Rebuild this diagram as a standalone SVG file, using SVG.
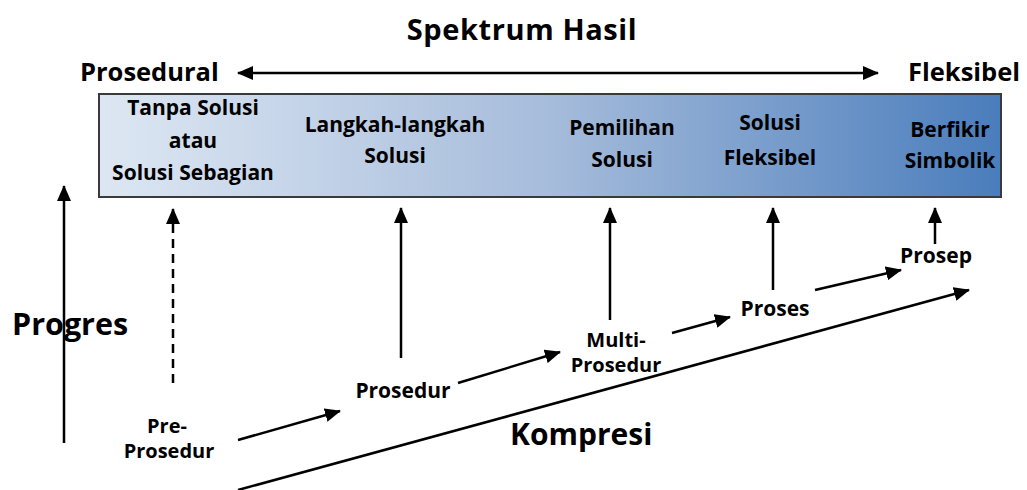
<svg xmlns="http://www.w3.org/2000/svg" width="1027" height="490" viewBox="0 0 1027 490">
<style>
text{font-family:"Open Sans",Lato,"Liberation Sans",sans-serif;font-weight:bold;fill:#000;}
.t{font-size:21px;text-anchor:middle;}
.big{font-size:29px;}
.hdr{font-size:25.5px;}
.ln{stroke:#000;stroke-width:2.5;fill:none;}
</style>
<defs>
<linearGradient id="g" x1="0" y1="0" x2="1" y2="0">
<stop offset="0" stop-color="#dde7f3"/>
<stop offset="0.5" stop-color="#a6bcdb"/>
<stop offset="1" stop-color="#4a7dbc"/>
</linearGradient>
<marker id="ah" viewBox="0 0 16 14" refX="15" refY="7" markerWidth="16" markerHeight="14" markerUnits="userSpaceOnUse" orient="auto-start-reverse">
<path d="M0,0 L16,7 L0,14 Z" fill="#000"/>
</marker>
</defs>
<g id="title">
<text x="522" y="40" text-anchor="middle" class="big" letter-spacing="0.6">Spektrum Hasil</text>
<text x="80" y="81" class="hdr">Prosedural</text>
<text x="908" y="81" class="hdr">Fleksibel</text>
</g>
<g id="spectrum">
<rect x="99" y="94" width="902" height="103" fill="url(#g)" stroke="#3a3a3a" stroke-width="2"/>
<text class="t" x="193" y="115">Tanpa Solusi<tspan x="193" y="148">atau</tspan><tspan x="193" y="180">Solusi Sebagian</tspan></text>
<text class="t" x="395" y="132">Langkah-langkah<tspan x="395" y="163">Solusi</tspan></text>
<text class="t" x="622" y="135">Pemilihan<tspan x="622" y="167">Solusi</tspan></text>
<text class="t" x="770" y="130">Solusi<tspan x="770" y="165">Fleksibel</tspan></text>
<text class="t" x="950" y="137">Berfikir<tspan x="950" y="168">Simbolik</tspan></text>
</g>
<g id="labels">
<text x="12" y="335" class="big" style="font-size:30.5px">Progres</text>
<text x="510" y="445" class="big" style="font-size:30px">Kompresi</text>
<text class="t" x="167" y="433" style="font-size:20px">Pre-<tspan x="169" y="458">Prosedur</tspan></text>
<text class="t" x="403" y="398">Prosedur</text>
<text class="t" x="616" y="347" style="font-size:20px">Multi-<tspan x="616" y="372">Prosedur</tspan></text>
<text class="t" x="775" y="316">Proses</text>
<text class="t" x="936" y="263">Prosep</text>
</g>
<g id="connectors">
<line class="ln" x1="238" y1="73" x2="878" y2="73" marker-start="url(#ah)" marker-end="url(#ah)"/>
<line class="ln" x1="64" y1="443" x2="64" y2="186" marker-end="url(#ah)"/>
<line class="ln" x1="173" y1="383" x2="173" y2="209" stroke-dasharray="9,6" marker-end="url(#ah)"/>
<line class="ln" x1="401" y1="358" x2="401" y2="208" marker-end="url(#ah)"/>
<line class="ln" x1="610" y1="320" x2="610" y2="208" marker-end="url(#ah)"/>
<line class="ln" x1="773" y1="290" x2="773" y2="208" marker-end="url(#ah)"/>
<line class="ln" x1="935" y1="244" x2="935" y2="208" marker-end="url(#ah)"/>
<line class="ln" x1="238" y1="440" x2="340" y2="411" marker-end="url(#ah)"/>
<line class="ln" x1="458" y1="383" x2="560" y2="352" marker-end="url(#ah)"/>
<line class="ln" x1="672" y1="333" x2="730" y2="317" marker-end="url(#ah)"/>
<line class="ln" x1="815" y1="290" x2="901" y2="270" marker-end="url(#ah)"/>
<line class="ln" x1="238" y1="490" x2="969" y2="290" marker-end="url(#ah)"/>
</g>
</svg>
